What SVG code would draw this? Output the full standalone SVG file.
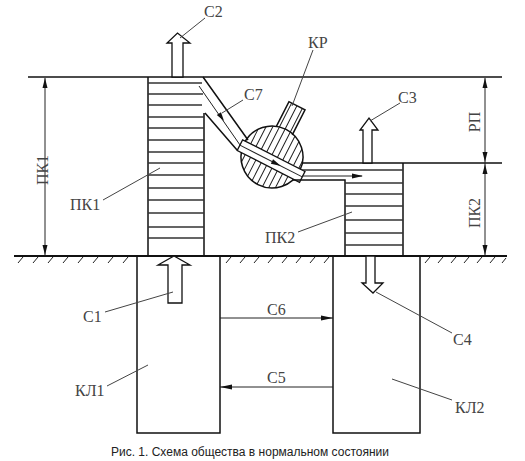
<svg xmlns="http://www.w3.org/2000/svg" width="525" height="461" viewBox="0 0 525 461">
<style>
.ln{stroke:#111;stroke-width:1.5;fill:none}
.gl{stroke:#111;stroke-width:2.2;fill:none}
.th{stroke:#222;stroke-width:1;fill:none}
.ld{stroke:#444;stroke-width:1;fill:none}
.st{stroke:#333;stroke-width:1.6;fill:none}
.ah{fill:#111;stroke:none}
.ha{fill:#fff;stroke:#111;stroke-width:1.3}
.lb{font-family:"Liberation Serif","Times New Roman",serif;font-size:16px;fill:#444}
.cap{font-family:"Liberation Sans",Arial,sans-serif;font-size:12px;fill:#222}
</style>
<defs>
<clipPath id="vc"><circle r="31"/><rect x="-10" y="-57" width="18" height="40"/></clipPath>
</defs>

<g id="ground">
<path class="ln" d="M28,77H502"/>
<path class="gl" d="M14,256H507"/>
<path class="th" d="M18,263l5,-6M33,263l5,-6M48,263l5,-6M63,263l5,-6M78,263l5,-6M93,263l5,-6M108,263l5,-6M123,263l5,-6M226,263l5,-6M240,263l5,-6M254,263l5,-6M268,263l5,-6M282,263l5,-6M296,263l5,-6M310,263l5,-6M324,263l5,-6M425,263l5,-6M438,263l5,-6M451,263l5,-6M464,263l5,-6M477,263l5,-6M490,263l5,-6M502,263l4,-5"/>
</g>

<g id="pk1">
<path class="ln" d="M148,77V256M204,113V256"/>
<path class="st" d="M148,83H202M148,94H203M148,105H202M148,117H204M148,128H204M148,140H204M148,152H204M148,163H204M148,175H204M148,188H204M148,200H204M148,213H204M148,227H204M148,238H204"/>
</g>

<g id="channel">
<path class="ln" d="M203,77L248,140M205,113L237,150"/>
</g>

<g id="kr" transform="translate(272,157) rotate(27)">
<g clip-path="url(#vc)">
<path class="th" d="M-31,-60V35M-25,-60V35M-19,-60V35M-13,-60V35M-7,-60V35M-1,-60V35M5,-60V35M11,-60V35M17,-60V35M23,-60V35M29,-60V35"/>
</g>
<circle r="31" class="ln"/>
<path class="ln" d="M-10,-29V-57H8V-29"/>
<rect x="-34" y="-2" width="70" height="12" fill="#fff" stroke="#111" stroke-width="1.3"/>
<path class="th" d="M-34,4H36"/>
<polygon class="ah" points="12,4 2,1.5 2,6.5"/>
</g>

<g id="pk2">
<path class="ln" d="M302,163H502M293,180H345V256M403,163V256"/>
<path class="st" d="M302,170H403M345,183H403M345,194H403M345,206H403M345,220H403M345,233H403M345,245H403"/>
</g>

<g id="kl1">
<path class="ln" d="M137,256V433H220V256"/>
</g>
<g id="kl2">
<path class="ln" d="M333,256V433H420V256"/>
</g>

<g id="connectors">
<path class="th" d="M199,86L240,145"/>
<polygon class="ah" points="224,121 221,112.2 216.8,115"/>
<path class="th" d="M302,176H362"/>
<polygon class="ah" points="363,176 352,173.5 352,178.5"/>
<path class="th" d="M220,318H333"/>
<polygon class="ah" points="333,318 321,315.5 321,320.5"/>
<path class="th" d="M220,387H333"/>
<polygon class="ah" points="220,387 232,384.5 232,389.5"/>
<path class="th" d="M45,78V255M485,78V255"/>
<polygon class="ah" points="45,78 42.5,88 47.5,88"/>
<polygon class="ah" points="45,255 42.5,245 47.5,245"/>
<polygon class="ah" points="485,78 482.5,88 487.5,88"/>
<polygon class="ah" points="485,162 482.5,152 487.5,152"/>
<polygon class="ah" points="485,164 482.5,174 487.5,174"/>
<polygon class="ah" points="485,255 482.5,245 487.5,245"/>
<polygon class="ha" points="172,77 172,43 167,43 177.5,33 190,43 183,43 183,77"/>
<polygon class="ha" points="168,303 168,265 158,265 174,256 190,265 182,265 182,303"/>
<polygon class="ha" points="363,163 363,130 360,130 369,118 378,130 372,130 372,163"/>
<polygon class="ha" points="366,256 366,283 362,283 373,293 383,283 375,283 375,256"/>
<path class="ld" d="M180,38L205,18M222,113L243,100M313,50L292,106M370,121L400,103M103,200L160,168M298,232L352,212M105,312L173,292M107,386L148,365M376,292L452,333M392,379L452,400"/>
</g>

<g id="labels">
<text class="lb" x="204" y="17">С2</text>
<text class="lb" x="244" y="100">С7</text>
<text class="lb" x="308" y="48">КР</text>
<text class="lb" x="398" y="103">С3</text>
<text class="lb" x="70" y="210">ПК1</text>
<text class="lb" x="265" y="243">ПК2</text>
<text class="lb" x="83" y="322">С1</text>
<text class="lb" x="75" y="396">КЛ1</text>
<text class="lb" x="267" y="315">С6</text>
<text class="lb" x="267" y="383">С5</text>
<text class="lb" x="453" y="345">С4</text>
<text class="lb" x="455" y="413">КЛ2</text>
<text class="lb" text-anchor="middle" transform="translate(48,170) rotate(-90)">ПК1</text>
<text class="lb" text-anchor="middle" transform="translate(480,122) rotate(-90)">РП</text>
<text class="lb" text-anchor="middle" transform="translate(480,213) rotate(-90)">ПК2</text>
<text class="cap" x="250" y="456" text-anchor="middle">Рис. 1. Схема общества в нормальном состоянии</text>
</g>
</svg>
